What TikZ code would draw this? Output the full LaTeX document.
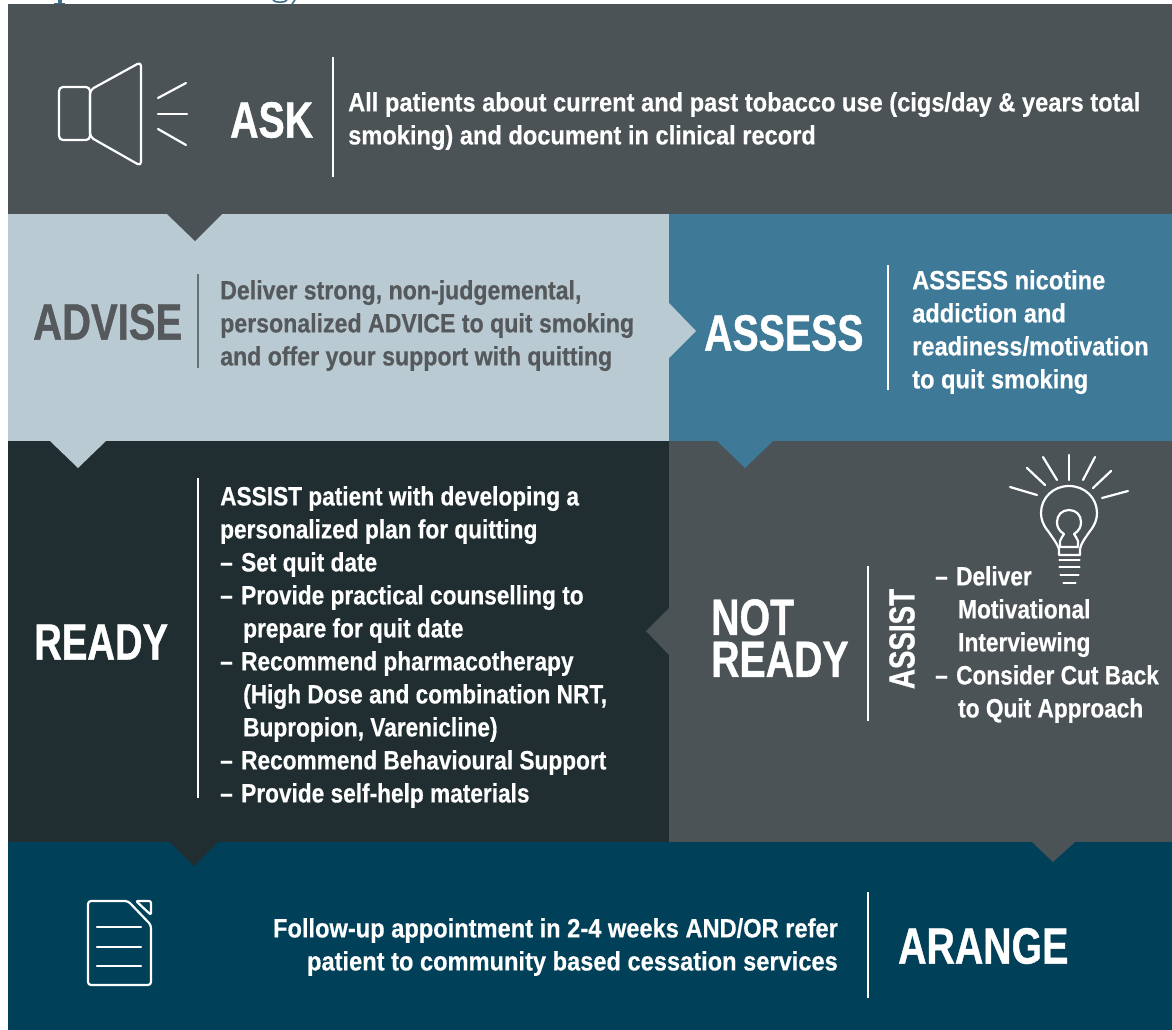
\documentclass[tikz,border=0pt]{standalone}
\usepackage{fontspec}
\newfontfamily\bodyf{Liberation Sans Bold}[FakeStretch=0.892,FakeBold=0.5]
\newfontfamily\advf{Liberation Sans Bold}[FakeStretch=0.873,FakeBold=0.5]
\newfontfamily\readyf{Liberation Sans Bold}[FakeStretch=0.855,FakeBold=0.5]
\newfontfamily\headf{Liberation Sans Bold}[FakeStretch=0.77,FakeBold=0.8]
\newfontfamily\headadv{Liberation Sans Bold}[FakeStretch=0.785,FakeBold=0.8]
\newfontfamily\headrdy{Liberation Sans Bold}[FakeStretch=0.75,FakeBold=0.8]
\definecolor{slate}{HTML}{4B5356}
\definecolor{pale}{HTML}{B9CAD3}
\definecolor{teal}{HTML}{3E7A97}
\definecolor{dark}{HTML}{202E31}
\definecolor{navy}{HTML}{004059}
\definecolor{advtext}{HTML}{55595C}
\definecolor{topink}{HTML}{3D6F8C}
\newcommand{\dd}{\makebox[21pt][l]{–}}
\newcommand{\ind}{\hspace*{23pt}}
\tikzset{
  x=1pt,y=-1pt,
  body/.style={font=\bodyf\fontsize{26.5}{33}\selectfont,text=white,align=left,anchor=north west,inner sep=0pt},
  head/.style={font=\headf\fontsize{51}{42}\selectfont,text=white,align=left,inner sep=0pt},
  rule/.style={line width=2.2pt,draw=white},
  icon/.style={draw=white,line width=2.2pt,line cap=round,line join=round},
}
\begin{document}
\begin{tikzpicture}
\useasboundingbox (0,0) rectangle (1172,1030);
\fill[white] (0,0) rectangle (1172,1030);
% cropped heading remnants above the top panel
\fill[topink] (58,0) rectangle (62,4);
\fill[topink] (54,3) rectangle (65,4);
\draw[topink,line width=1.6pt] (273,0) .. controls (274,3) and (286,3) .. (287,0);
\draw[topink,line width=1.6pt] (295,0) -- (292,4);
% panels
\fill[navy] (8,842) rectangle (1172,1030);
\fill[dark] (8,441) rectangle (669,842);
\fill[slate] (669,441) rectangle (1172,842);
\fill[pale] (8,214) rectangle (669,441);
\fill[teal] (669,214) rectangle (1172,441);
\fill[slate] (8,4) rectangle (1172,214);
% pointers
\fill[slate] (167,214) -- (222,214) -- (195,241) -- cycle;
\fill[pale] (669,303) -- (696,331) -- (669,358) -- cycle;
\fill[pale] (50,441) -- (106,441) -- (78,468) -- cycle;
\fill[teal] (717,441) -- (773,441) -- (745,468) -- cycle;
\fill[slate] (669,608) -- (646,631) -- (669,655) -- cycle;
\fill[dark] (170,842) -- (218,842) -- (194,866) -- cycle;
\fill[slate] (1032,842) -- (1075,842) -- (1053,862) -- cycle;
% ASK
\node[head,anchor=west] (ask) at (230,120) {ASK};
\draw[rule] (333,57) -- (333,177);
\node[body] (asktext) at (348,92) {All patients about current and past tobacco use (cigs/day \& years total\\smoking) and document in clinical record};
% ADVISE
\node[head,anchor=west,text=advtext,font=\headadv\fontsize{51}{42}\selectfont] (advise) at (33,322) {ADVISE};
\draw[rule,draw=advtext!80!pale] (198,274) -- (198,368);
\node[body,text=advtext,font=\advf\fontsize{26.5}{33}\selectfont] (advisetext) at (220,280) {Deliver strong, non-judgemental,\\personalized ADVICE to quit smoking\\and offer your support with quitting};
% ASSESS
\node[head,anchor=west] (assess) at (704,333) {ASSESS};
\draw[rule] (888,265) -- (888,390);
\node[body] (assesstext) at (912,270) {ASSESS nicotine\\addiction and\\readiness/motivation\\to quit smoking};
% READY
\node[head,anchor=west,font=\headrdy\fontsize{51}{42}\selectfont] (ready) at (34,642) {READY};
\draw[rule] (198,478) -- (198,798);
\node[body,font=\readyf\fontsize{26.5}{33}\selectfont] (readytext) at (220,486) {ASSIST patient with developing a\\personalized plan for quitting\\\dd Set quit date\\\dd Provide practical counselling to\\\ind prepare for quit date\\\dd Recommend pharmacotherapy\\\ind (High Dose and combination NRT,\\\ind Bupropion, Varenicline)\\\dd Recommend Behavioural Support\\\dd Provide self-help materials};
% NOT READY
\node[head,anchor=west] (notready) at (711,638) {NOT\\READY};
\draw[rule] (868,566) -- (868,721);
\node[font=\headf\fontsize{36}{36}\selectfont,text=white,rotate=90,inner sep=0pt] (assist) at (902,639) {ASSIST};
\node[body,font=\readyf\fontsize{26.5}{33}\selectfont] (nrtext) at (935,566) {\dd Deliver\\\ind Motivational\\\ind Interviewing\\\dd Consider Cut Back\\\ind to Quit Approach};
% ARANGE
\node[body,anchor=north east,align=right] (artext) at (838,918) {Follow-up appointment in 2-4 weeks AND/OR refer\\patient to community based cessation services};
\draw[rule] (868,892) -- (868,998);
\node[head,anchor=west] (arange) at (898,946) {ARANGE};
% speaker icon
\draw[icon,rounded corners=4pt] (59,87) rectangle (90,140);
\draw[icon,rounded corners=4pt] (90,90) -- (90,137) -- (141,166) -- (141,62) -- cycle;
\draw[icon] (158,98) -- (186,83);
\draw[icon] (158,114) -- (187,114);
\draw[icon] (158,129) -- (186,145);
% bulb icon
\draw[icon] (1059,555) -- (1059,549) .. controls (1057,543) and (1052,537) .. (1048,531)
  .. controls (1043,525) and (1041,519) .. (1041,513)
  .. controls (1041,498) and (1053,486) .. (1069,486)
  .. controls (1085,486) and (1097,498) .. (1097,513)
  .. controls (1097,519) and (1095,525) .. (1090,531)
  .. controls (1086,537) and (1081,543) .. (1080,549) -- (1080,555) -- cycle;
\draw[icon] (1060,547) -- (1060,541) .. controls (1061,538) and (1063,536) .. (1064,534)
  .. controls (1059,531) and (1057,527) .. (1057,522)
  .. controls (1057,515) and (1062,510) .. (1069,510)
  .. controls (1076,510) and (1081,515) .. (1081,522)
  .. controls (1081,527) and (1079,531) .. (1074,534)
  .. controls (1075,536) and (1077,538) .. (1078,541) -- (1078,547) -- cycle;
\foreach \yy/\hw in {560/10,567/10,575/9,583/6}{\draw[icon] (1069.5-\hw,\yy) -- (1069.5+\hw,\yy);}
\draw[icon] (1069,455) -- (1069,480);
\draw[icon] (1043,457) -- (1057,480);
\draw[icon] (1095,457) -- (1083,480);
\draw[icon] (1027,468) -- (1045,485);
\draw[icon] (1111,471) -- (1093,488);
\draw[icon] (1010,487) -- (1037,495);
\draw[icon] (1128,491) -- (1102,498);
% document icon
\draw[icon,rounded corners=3pt] (88,901) -- (128,901) -- (151,925) -- (151,985) -- (88,985) -- cycle;
\draw[icon,rounded corners=2pt] (136,901) -- (151,901) -- (151,915) -- cycle;
\draw[icon] (97,927) -- (141,927);
\draw[icon] (97,947) -- (141,947);
\draw[icon] (97,966) -- (141,966);
\end{tikzpicture}
\end{document}
